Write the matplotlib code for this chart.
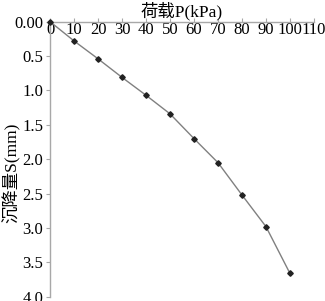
import numpy as np
import matplotlib
matplotlib.use('Agg')
import matplotlib.pyplot as plt
from matplotlib.ticker import FixedLocator, FixedFormatter

plt.rcParams['font.family'] = ['Liberation Serif', 'Noto Sans CJK SC']

# load P (kPa) vs settlement S (mm)
load = [0, 10, 20, 30, 40, 50, 60, 70, 80, 90, 100]
settle = [0.0, 0.28, 0.54, 0.81, 1.07, 1.34, 1.70, 2.05, 2.52, 2.98, 3.66]

xticks = list(range(0, 111, 10))
yticks = [0.0, 0.5, 1.0, 1.5, 2.0, 2.5, 3.0, 3.5, 4.0]
ylabels = ['0.00', '0.5', '1.0', '1.5', '2.0', '2.5', '3.0', '3.5', '4.0']

fig = plt.figure(figsize=(3.25, 3.01), dpi=100)
ax = fig.add_axes([0.154, 0.014, 0.812, 0.914])

ax.plot(load, settle, color='#808080', lw=1.0, marker='D', ms=2.8,
        mfc='#222222', mec='#222222', zorder=3, clip_on=False)

ax.set_xlim(0, 110)
ax.set_ylim(4.0, 0.0)

ax.xaxis.set_major_locator(FixedLocator(xticks))
ax.yaxis.set_major_locator(FixedLocator(yticks))
ax.yaxis.set_major_formatter(FixedFormatter(ylabels))

for s in ['right', 'bottom']:
    ax.spines[s].set_visible(False)
for s in ['top', 'left']:
    ax.spines[s].set_color('#a8a8a8')
    ax.spines[s].set_linewidth(1.0)

ax.tick_params(axis='x', top=True, labeltop=True, bottom=False, labelbottom=False,
               direction='out', length=3, color='#a8a8a8', pad=-15, labelsize=12)
ax.tick_params(axis='y', direction='out', length=3, color='#a8a8a8', labelsize=12, pad=2)

ax.xaxis.set_label_position('top')
ax.set_xlabel('荷载P(kPa)', fontsize=12.5, labelpad=1)
ax.set_ylabel('沉降量S(mm)', fontsize=12.5)
ax.yaxis.set_label_coords(-0.112, 0.45)

fig.savefig('out.png', dpi=100)
